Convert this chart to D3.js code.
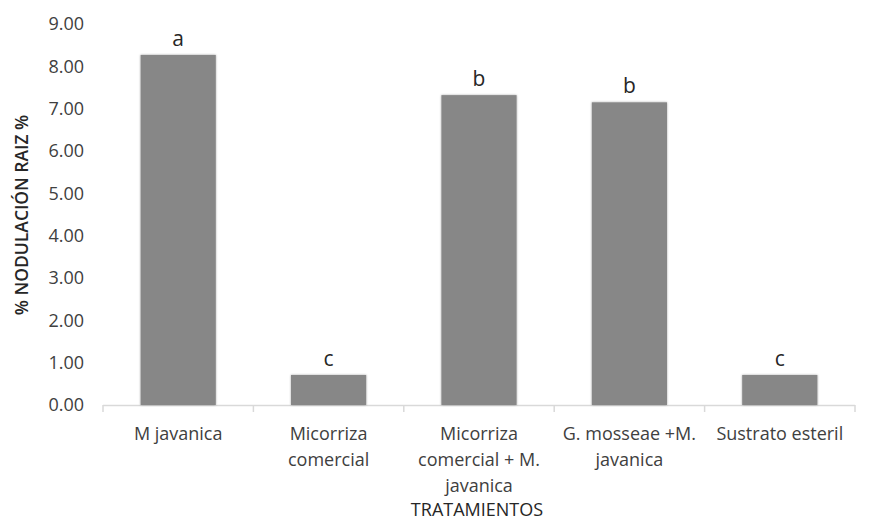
<!DOCTYPE html>
<html><head><meta charset="utf-8">
<script src="https://cdn.jsdelivr.net/npm/d3@7"></script>
<style>body{margin:0;background:#fff;} text{font-family:"Open Sans","Noto Sans",sans-serif;}</style>
</head><body>
<svg id="c" width="877" height="520"></svg>
<script>
const categories = ["M javanica", "Micorriza comercial", "Micorriza comercial + M. javanica", "G. mosseae +M. javanica", "Sustrato esteril"];
const values = [8.27, 0.71, 7.32, 7.15, 0.71];
const letters = ["a", "c", "b", "b", "c"];
const yTicks = [0, 1, 2, 3, 4, 5, 6, 7, 8, 9];
const yTitle = "% NODULACIÓN RAIZ %";
const xTitle = "TRATAMIENTOS";

const svg = d3.select("#c");
const m = {l: 103, r: 22, t: 24, b: 115};
const W = 877, H = 520;
const x = d3.scaleBand().domain(categories).range([m.l, W - m.r]).paddingInner(0.5).paddingOuter(0.25);
const y = d3.scaleLinear().domain([0, 9]).range([H - m.b, m.t]);
const textCol = "#404040";

// x axis
const xb = d3.scaleBand().domain(categories).range([m.l, W - m.r]);
const gx = svg.append("g").attr("transform", `translate(0,${y(0)})`);
gx.append("line").attr("x1", m.l).attr("x2", W - m.r).attr("y1", 0.5).attr("y2", 0.5).attr("stroke", "#d9d9d9").attr("stroke-width", 1.5);
const bounds = categories.map(c => xb(c)).concat([W - m.r]);
gx.selectAll("line.tk").data(bounds).enter().append("line").attr("class", "tk")
  .attr("x1", d => d).attr("x2", d => d).attr("y1", 0).attr("y2", 7).attr("stroke", "#d9d9d9").attr("stroke-width", 1.5);

// y tick labels
svg.append("g").selectAll("text").data(yTicks).enter().append("text")
  .attr("x", 84).attr("y", d => y(d)).attr("dy", "0.35em").attr("text-anchor", "end")
  .attr("font-size", 18).attr("fill", textCol).text(d => d.toFixed(2));

// shadow filter
const defs = svg.append("defs");
const f = defs.append("filter").attr("id", "sh").attr("x", "-10%").attr("y", "-10%").attr("width", "120%").attr("height", "120%");
f.append("feGaussianBlur").attr("in", "SourceAlpha").attr("stdDeviation", 1.2).attr("result", "b");
f.append("feComponentTransfer").attr("in", "b").attr("result", "o2").append("feFuncA").attr("type", "linear").attr("slope", 0.35);
const mg = f.append("feMerge"); mg.append("feMergeNode").attr("in", "o2"); mg.append("feMergeNode").attr("in", "SourceGraphic");

// bars
svg.append("g").selectAll("rect").data(values).enter().append("rect")
  .attr("x", (d, i) => x(categories[i])).attr("width", x.bandwidth())
  .attr("y", d => y(d)).attr("height", d => y(0) - y(d))
  .attr("fill", "#878787").attr("filter", "url(#sh)");

// letters
svg.append("g").selectAll("text").data(values).enter().append("text")
  .attr("x", (d, i) => x(categories[i]) + x.bandwidth() / 2).attr("y", d => y(d) - 9)
  .attr("text-anchor", "middle").attr("font-size", 21).attr("fill", "#262626").text((d, i) => letters[i]);

// category labels with wrap
const maxW = 148;
categories.forEach(c => {
  const cx = xb(c) + xb.bandwidth() / 2;
  const t = svg.append("text").attr("x", cx).attr("y", 440)
    .attr("text-anchor", "middle").attr("font-size", 18).attr("fill", textCol);
  const words = c.split(" ");
  let line = [];
  let ts = t.append("tspan").attr("x", cx).attr("dy", 0);
  words.forEach(w => {
    line.push(w);
    ts.text(line.join(" "));
    if (ts.node().getComputedTextLength() > maxW && line.length > 1) {
      line.pop(); ts.text(line.join(" "));
      line = [w];
      ts = t.append("tspan").attr("x", cx).attr("dy", 26).text(w);
    }
  });
});

// axis titles
svg.append("text").attr("x", 477).attr("y", 516).attr("text-anchor", "middle")
  .attr("font-size", 18).attr("fill", "#262626").text(xTitle);
svg.append("text").attr("transform", `translate(28,215) rotate(-90)`)
  .attr("text-anchor", "middle").attr("font-size", 17.5).attr("font-weight", 600).attr("fill", "#262626").text(yTitle);
</script>
</body></html>
